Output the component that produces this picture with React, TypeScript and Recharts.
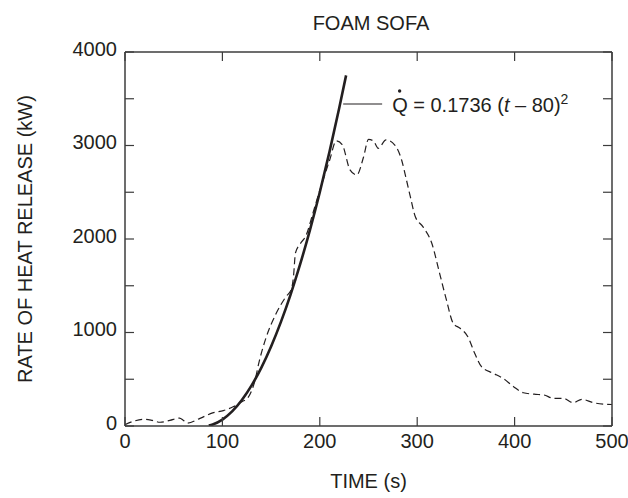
import { Line, LineChart, ReferenceLine, XAxis, YAxis } from "recharts"

const measuredTime = [
  0, 10, 20, 28, 36, 46, 56, 60, 64, 77, 90, 101, 111, 120, 126, 133, 138, 145, 155, 165, 171, 173, 175, 180,
  186, 193, 200, 210, 217, 223, 231, 238, 245, 250, 255, 260, 268, 277, 284, 289, 293, 298, 306, 315, 323, 330,
  337, 344, 352, 359, 366, 378, 388, 399, 409, 420, 430, 440, 450, 460, 469, 481, 495, 500,
]
const measuredHrr = [
  15, 55, 72, 60, 40, 60, 85, 60, 30, 82, 140, 165, 205, 260, 300, 470, 700, 950, 1200, 1380, 1470, 1600, 1850,
  1950, 2040, 2280, 2520, 2840, 3050, 3010, 2740, 2685, 2880, 3065, 3050, 2970, 3060, 3005, 2845, 2630, 2450,
  2240, 2130, 1954, 1633, 1348, 1098, 1045, 955, 778, 634, 564, 510, 420, 356, 340, 332, 296, 296, 249, 285, 249,
  232, 230,
]

// t-squared fit curve
const fitTime = [86, 90, 100, 110, 120, 130, 140, 150, 160, 170, 180, 190, 200, 210, 220, 227]
const fitHrr = [6, 17, 69, 156, 278, 434, 625, 851, 1111, 1406, 1736, 2101, 2500, 2934, 3403, 3750]

const timeTicks = [0, 100, 200, 300, 400, 500]
const hrrTicks = [0, 500, 1000, 1500, 2000, 2500, 3000, 3500, 4000]

const measured = measuredTime.map((t, i) => ({ t, q: measuredHrr[i] }))
const fit = fitTime.map((t, i) => ({ t, q: fitHrr[i] }))

const FONT = "'Liberation Sans', Arial, Helvetica, sans-serif"
const INK = "#231f20"
const AXIS = "#3c3c3c"

function NoTick() {
  return <g />
}

function TimeTick({ x, y, payload }: any) {
  return (
    <text x={x} y={y + 22} textAnchor="middle" fontSize={20} fontFamily={FONT} fill={INK}>
      {payload.value}
    </text>
  )
}

function HrrTick({ x, y, payload }: any) {
  if (payload.value % 1000 !== 0) return <g />
  return (
    <text x={x} y={y + 3.5} textAnchor="end" fontSize={20} fontFamily={FONT} fill={INK}>
      {payload.value}
    </text>
  )
}

function TitleLabel({ viewBox }: any) {
  return (
    <text x={371} y={30} textAnchor="middle" fontSize={20} fontFamily={FONT} fill={INK}>
      FOAM SOFA
    </text>
  )
}

function TimeLabel({ viewBox }: any) {
  return (
    <text x={viewBox.x + viewBox.width / 2} y={viewBox.y + 62} textAnchor="middle" fontSize={20} fontFamily={FONT} fill={INK}>
      TIME (s)
    </text>
  )
}

function HrrLabel({ viewBox }: any) {
  const cx = 32
  const cy = viewBox.y + viewBox.height / 2
  return (
    <text
      x={cx}
      y={cy}
      transform={`rotate(-90 ${cx} ${cy})`}
      textAnchor="middle"
      fontSize={20}
      fontFamily={FONT}
      fill={INK}
    >
      RATE OF HEAT RELEASE (kW)
    </text>
  )
}

function FitLabel({ viewBox }: any) {
  const x = viewBox.x + viewBox.width + 10
  const y = viewBox.y + 8
  return (
    <g>
      <circle cx={x + 7.5} cy={y - 21} r={1.7} fill={INK} />
      <text x={x} y={y} fontSize={20} fontFamily={FONT} fill={INK}>
        <tspan>Q = 0.1736 (</tspan>
        <tspan fontStyle="italic">t</tspan>
        <tspan>{"  \u2013 80)"}</tspan>
        <tspan fontSize={14} dy={-8}>2</tspan>
      </text>
    </g>
  )
}

export default function App() {
  return (
    <div style={{ position: "absolute", left: 0, top: 0, background: "#fff" }}>
      <LineChart width={628} height={498} margin={{ top: 51, right: 15, bottom: 0, left: 0 }}>
        <XAxis
          xAxisId="b"
          type="number"
          dataKey="t"
          domain={[0, 500]}
          ticks={timeTicks}
          allowDataOverflow
          height={72}
          tickSize={-9}
          tickMargin={9}
          tick={<TimeTick />}
          axisLine={{ stroke: AXIS, strokeWidth: 1.5 }}
          tickLine={{ stroke: AXIS, strokeWidth: 1.2 }}
          label={<TimeLabel />}
        />
        <XAxis
          xAxisId="top"
          orientation="top"
          type="number"
          dataKey="t"
          domain={[0, 500]}
          ticks={timeTicks}
          allowDataOverflow
          height={1}
          tickSize={-9}
          tick={<NoTick />}
          axisLine={{ stroke: AXIS, strokeWidth: 1.5 }}
          tickLine={{ stroke: AXIS, strokeWidth: 1.2 }}
          label={<TitleLabel />}
        />
        <YAxis
          yAxisId="l"
          type="number"
          domain={[0, 4000]}
          ticks={hrrTicks}
          allowDataOverflow
          width={125}
          tickSize={-9}
          tickMargin={17}
          tick={<HrrTick />}
          axisLine={{ stroke: AXIS, strokeWidth: 1.5 }}
          tickLine={{ stroke: AXIS, strokeWidth: 1.2 }}
          label={<HrrLabel />}
        />
        <YAxis
          yAxisId="r"
          orientation="right"
          type="number"
          domain={[0, 4000]}
          ticks={hrrTicks}
          allowDataOverflow
          width={1}
          tickSize={-9}
          tick={<NoTick />}
          axisLine={{ stroke: AXIS, strokeWidth: 1.5 }}
          tickLine={{ stroke: AXIS, strokeWidth: 1.2 }}
        />
        <Line
          xAxisId="b"
          yAxisId="l"
          data={measured}
          dataKey="q"
          type="monotone"
          stroke={INK}
          strokeWidth={1.2}
          strokeDasharray="7 4"
          dot={false}
          activeDot={false}
          isAnimationActive={false}
        />
        {/* fit curve sits on the top/right axes (same domains) so those frame axes get drawn */}
        <Line
          xAxisId="top"
          yAxisId="r"
          data={fit}
          dataKey="q"
          type="monotone"
          stroke={INK}
          strokeWidth={2.6}
          dot={false}
          activeDot={false}
          isAnimationActive={false}
        />
        <ReferenceLine
          xAxisId="b"
          yAxisId="l"
          segment={[
            { x: 224, y: 3444 },
            { x: 264, y: 3444 },
          ]}
          stroke={INK}
          strokeWidth={1.2}
          label={<FitLabel />}
        />
      </LineChart>
    </div>
  )
}
